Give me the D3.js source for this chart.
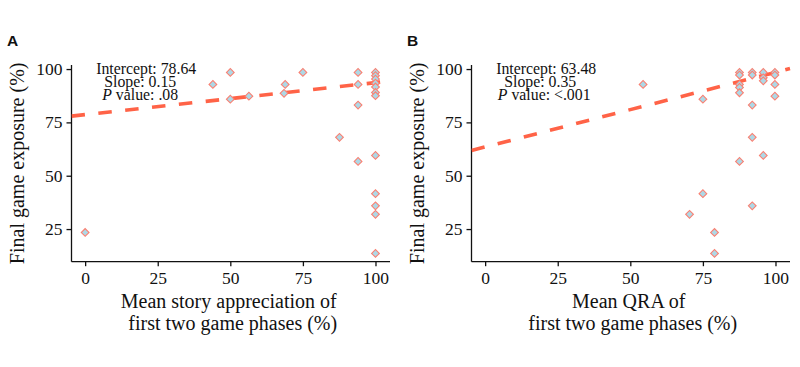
<!DOCTYPE html>
<html><head><meta charset="utf-8">
<script src="https://cdn.jsdelivr.net/npm/d3@7"></script>
<style>
body{margin:0;background:#fff;}
svg{display:block;}
text{font-family:"Liberation Serif","Times New Roman",serif;fill:#111;}
</style></head>
<body>
<svg id="chart" width="800" height="367"></svg>
<script>
// ---- data ----
const xTicks = [0, 25, 50, 75, 100];
const yTicks = [25, 50, 75, 100];

const storyX = [0, 44, 50, 50, 56.4, 68.5, 68.9, 75, 87.6, 94, 94, 94, 94,
  100, 100, 100, 100, 100, 100, 100, 100, 100, 100, 100, 100];
const storyY = [23.4, 92.8, 98.4, 85.9, 87.3, 88.6, 92.8, 98.4, 68.0, 98.4, 92.8, 83.1, 56.7,
  98.4, 96.9, 95.3, 93.4, 91.6, 89.0, 87.5, 59.5, 41.6, 35.9, 31.9, 13.6];

const qraX = [54.4, 70.4, 75, 75, 79, 79,
  87.6, 87.6, 87.6, 87.6, 87.6, 87.6,
  92, 92, 92, 92, 92,
  95.8, 95.8, 95.8, 95.8,
  99.8, 99.8, 99.8, 99.8];
const qraY = [92.8, 31.9, 85.9, 41.6, 23.4, 13.6,
  98.4, 97.2, 92.8, 91.4, 88.9, 56.7,
  98.4, 97.2, 83.1, 68.0, 35.9,
  98.4, 95.9, 94.5, 59.5,
  98.4, 97.2, 92.8, 87.3];

const panels = [
  {label: "A", x: storyX, y: storyY, intercept: 78.64, slope: 0.15,
   stats: ["Intercept: 78.64", "Slope: 0.15", ".08"],
   xTitle: ["Mean story appreciation of", "first two game phases (%)"]},
  {label: "B", x: qraX, y: qraY, intercept: 63.48, slope: 0.35,
   stats: ["Intercept: 63.48", "Slope: 0.35", "<.001"],
   xTitle: ["Mean QRA of", "first two game phases (%)"]}
];

const svg = d3.select("#chart");
const xDomain = [-4.7, 105];
const yDomain = [9.7, 101.9];

panels.forEach((p, i) => {
  const off = i * 400;
  const left = 71.5 + off, right = 390 + off;
  const top = 65, bottom = 261.7;
  const x = d3.scaleLinear().domain(xDomain).range([left, right]);
  const y = d3.scaleLinear().domain(yDomain).range([bottom, top]);
  const g = svg.append("g");

  // panel letter
  g.append("text").attr("x", 7 + off).attr("y", 45.7)
    .style("font-family", "'Liberation Sans', Arial, sans-serif")
    .style("font-weight", "bold").style("font-size", "15.5px").text(p.label);

  // axes
  const xAxis = d3.axisBottom(x).tickValues(xTicks).tickSize(4.5).tickPadding(5);
  const yAxis = d3.axisLeft(y).tickValues(yTicks).tickSize(5).tickPadding(4);
  const gx = g.append("g").attr("transform", `translate(0,${bottom})`).call(xAxis);
  const gy = g.append("g").attr("transform", `translate(${left},0)`).call(yAxis);
  [gx, gy].forEach(a => {
    a.select(".domain").attr("stroke", "#111").attr("stroke-width", 1.3);
    a.selectAll(".tick line").attr("stroke", "#111").attr("stroke-width", 1.3);
    a.selectAll(".tick text").style("font-family", "'Liberation Serif', serif")
      .style("font-size", "17.5px").attr("fill", "#111");
  });
  gx.selectAll(".tick text").attr("dy", "0.72em");
  gx.select(".domain").attr("d", `M${left},0H${right}`);
  gy.select(".domain").attr("d", `M0,${bottom}V${top}`);

  // y title
  g.append("text").attr("transform", `translate(${23.5 + off},${(top + bottom) / 2}) rotate(-90)`)
    .attr("text-anchor", "middle").style("font-size", "20px").text("Final game exposure (%)");

  // x title
  const cx = (left + right) / 2;
  p.xTitle.forEach((t, k) => {
    g.append("text").attr("x", cx + (k ? 2 : -2)).attr("y", 308 + k * 21.5)
      .attr("text-anchor", "middle").style("font-size", "20px").text(t);
  });

  // regression line
  const clipId = "clip" + i;
  svg.append("clipPath").attr("id", clipId).append("rect")
    .attr("x", left).attr("y", top - 4).attr("width", right - left + 2).attr("height", bottom - top + 4);
  g.append("line")
    .attr("clip-path", `url(#${clipId})`)
    .attr("x1", x(xDomain[0])).attr("y1", y(p.intercept + p.slope * xDomain[0]))
    .attr("x2", x(xDomain[1])).attr("y2", y(p.intercept + p.slope * xDomain[1]))
    .attr("stroke", "#FF6347").attr("stroke-width", 3.6)
    .attr("stroke-dasharray", "13.5,13.5");

  // points (diamonds)
  const sym = d3.symbol().type(d3.symbolSquare).size(30);
  g.selectAll("path.pt").data(p.x.map((v, k) => [v, p.y[k]])).join("path")
    .attr("class", "pt")
    .attr("d", sym)
    .attr("transform", d => `translate(${x(d[0])},${y(d[1])}) rotate(45)`)
    .attr("fill", "#ADD8E6").attr("stroke", "#FA8072").attr("stroke-width", 1.1);

  // annotation
  const ax = x(20);
  const fs = "15.8px";
  g.append("text").attr("x", ax + 3).attr("y", 74.3).attr("text-anchor", "middle")
    .style("font-size", fs).text(p.stats[0]);
  g.append("text").attr("x", ax - 3).attr("y", 87.3).attr("text-anchor", "middle")
    .style("font-size", fs).text(p.stats[1]);
  const t3 = g.append("text").attr("x", ax - 3 + (i ? 4 : 0)).attr("y", 100.3).attr("text-anchor", "middle")
    .style("font-size", fs);
  t3.append("tspan").style("font-style", "italic").text("P");
  t3.append("tspan").text(" value: " + p.stats[2]);
});
</script>
</body></html>
